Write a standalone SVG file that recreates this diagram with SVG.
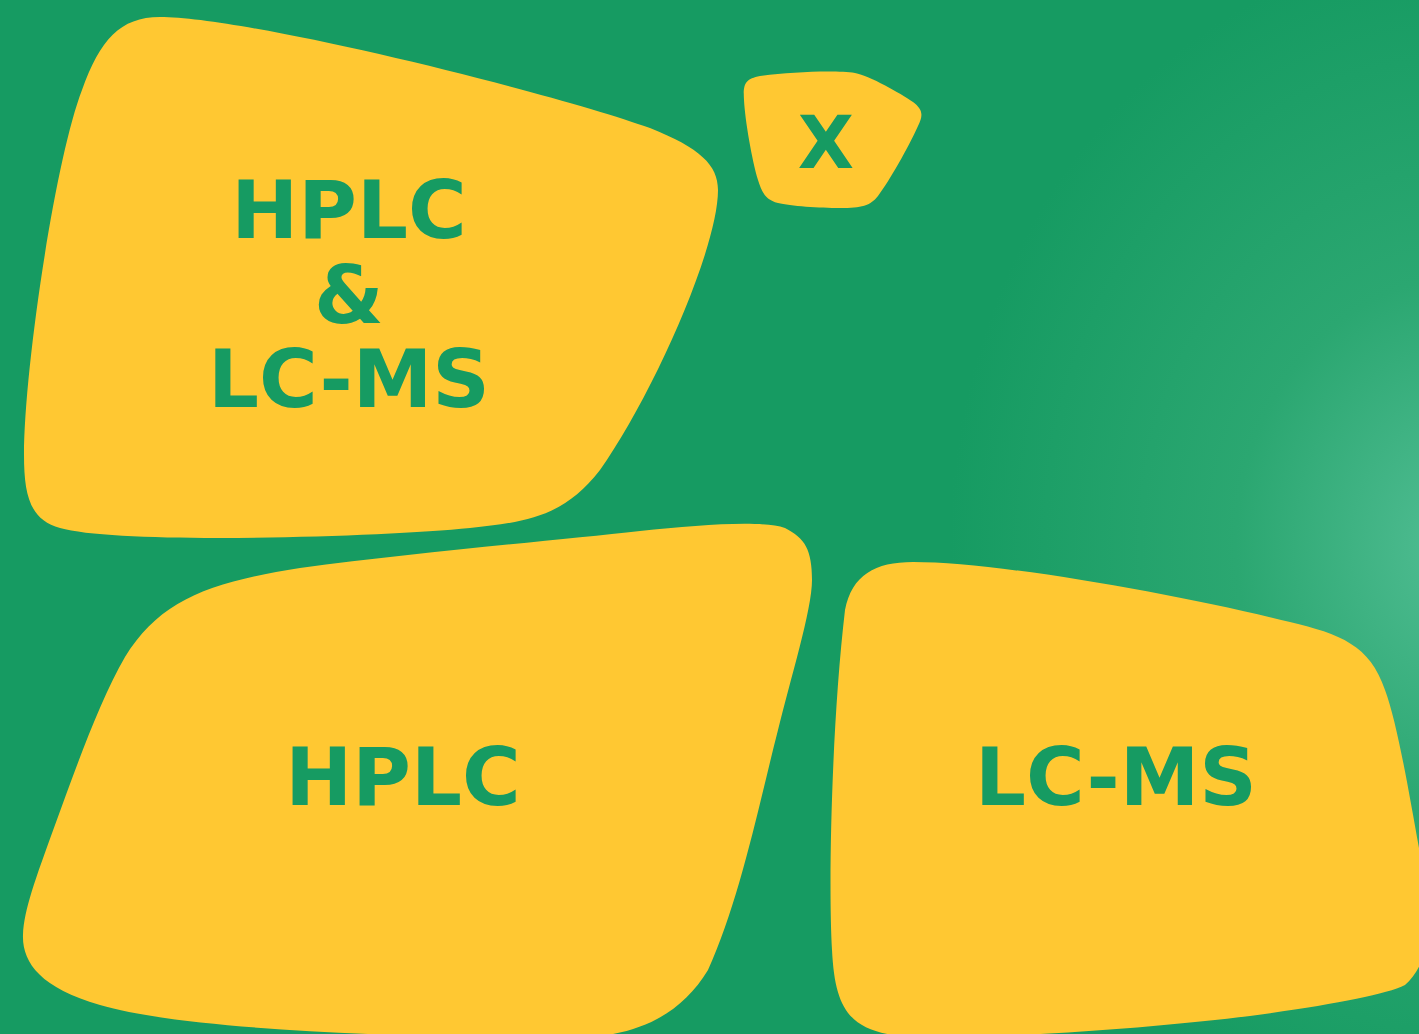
<svg xmlns="http://www.w3.org/2000/svg" width="1419" height="1034" viewBox="0 0 1419 1034">
<style>
.blob{fill:#FFC832;}
.lbl{font-family:"DejaVu Sans",Verdana,sans-serif;font-weight:bold;fill:#169B62;text-anchor:middle;}
</style>
<defs>
<radialGradient id="glow" gradientUnits="userSpaceOnUse" cx="1470" cy="545" r="520" gradientTransform="translate(1470 545) scale(1 1.15) translate(-1470 -545)">
<stop offset="0" stop-color="#55C196"/>
<stop offset="0.12" stop-color="#48B88B"/>
<stop offset="0.45" stop-color="#2BA771"/>
<stop offset="1" stop-color="#169B62"/>
</radialGradient>
</defs>
<rect x="0" y="0" width="1419" height="1034" fill="#169B62"/>
<rect x="0" y="0" width="1419" height="1034" fill="url(#glow)"/>
<g id="node-hplc-lcms">
<path class="blob" d="M 160 17 C 250 17, 560 95, 650 128 C 700 148, 718 165, 718 190 C 718 250, 650 400, 600 470 C 565 515, 530 522, 470 528 C 380 537, 120 545, 60 528 C 30 520, 24 495, 24 455 C 24 370, 55 160, 82 90 C 100 40, 120 17, 160 17 Z"/>
<text class="lbl" font-size="80" x="349" y="238">HPLC</text>
<text class="lbl" font-size="80" x="349" y="323">&amp;</text>
<text class="lbl" font-size="80" x="349" y="407">LC-MS</text>
</g>
<g id="node-x">
<path class="blob" d="M 760 76 C 790 72, 835 70, 855 73 C 870 76, 900 93, 913 102 C 922 109, 924 114, 918 126 C 908 148, 890 180, 878 196 C 870 206, 862 208, 840 208 C 820 208, 790 206, 778 203 C 766 200, 762 193, 758 180 C 752 160, 745 120, 744 100 C 743 84, 745 79, 760 76 Z"/>
<text class="lbl" font-size="73" x="826" y="168">X</text>
</g>
<g id="node-hplc">
<path class="blob" d="M 300 568 C 420 552, 560 540, 640 531 C 700 525, 760 520, 785 528 C 805 538, 812 550, 812 580 C 812 610, 790 680, 778 730 C 760 800, 740 900, 708 970 C 685 1008, 650 1030, 600 1036 C 500 1040, 200 1035, 100 1005 C 40 988, 22 962, 23 935 C 24 910, 35 880, 55 825 C 75 770, 100 700, 125 657 C 160 600, 210 582, 300 568 Z"/>
<text class="lbl" font-size="80" x="403" y="805">HPLC</text>
</g>
<g id="node-lcms">
<path class="blob" d="M 913 562 C 1000 562, 1180 595, 1290 622 C 1340 634, 1370 645, 1385 690 C 1400 730, 1415 830, 1425 880 C 1432 930, 1428 965, 1405 985 C 1385 995, 1330 1005, 1250 1016 C 1150 1028, 1000 1040, 900 1036 C 850 1030, 835 1010, 832 950 C 828 880, 832 720, 845 610 C 852 575, 875 562, 913 562 Z"/>
<text class="lbl" font-size="80" x="1116" y="805">LC-MS</text>
</g>
<g id="connectors"/>
</svg>
